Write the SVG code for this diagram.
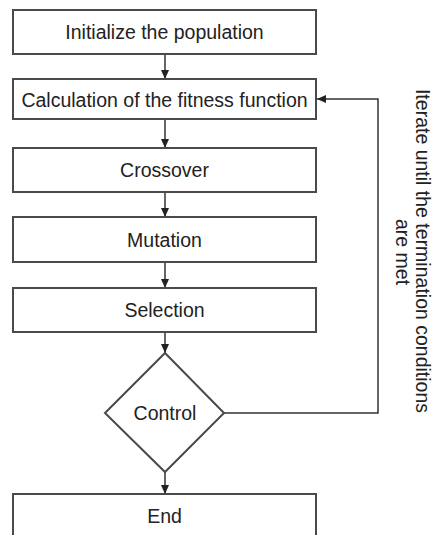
<svg xmlns="http://www.w3.org/2000/svg" width="433" height="535" viewBox="0 0 433 535">
<style>
.box{fill:#fff;stroke:#4a4a4a;stroke-width:2}
.lbl{font-family:"Liberation Sans",Arial,sans-serif;font-size:19.5px;fill:#222;text-anchor:middle}
.conn{fill:none;stroke:#333;stroke-width:1.5}
</style>
<defs>
<marker id="ah" markerUnits="userSpaceOnUse" markerWidth="10" markerHeight="10" refX="9" refY="5" orient="auto">
<path d="M0,1 L9,5 L0,9 Z" fill="#222"/>
</marker>
</defs>
<rect width="433" height="535" fill="#fff"/>
<g id="connectors">
<line class="conn" x1="165" y1="54" x2="165" y2="79" marker-end="url(#ah)"/>
<line class="conn" x1="165" y1="119" x2="165" y2="148" marker-end="url(#ah)"/>
<line class="conn" x1="165" y1="192" x2="165" y2="217" marker-end="url(#ah)"/>
<line class="conn" x1="165" y1="262" x2="165" y2="288" marker-end="url(#ah)"/>
<line class="conn" x1="165" y1="332" x2="165" y2="353" marker-end="url(#ah)"/>
<line class="conn" x1="165" y1="472" x2="165" y2="494" marker-end="url(#ah)"/>
<polyline class="conn" points="224,413 378,413 378,99 317,99" marker-end="url(#ah)"/>
</g>
<g id="init">
<rect class="box" x="13" y="10" width="303" height="44"/>
<text class="lbl" x="164.5" y="39">Initialize the population</text>
</g>
<g id="fitness">
<rect class="box" x="13" y="79" width="303" height="40"/>
<text class="lbl" x="164.5" y="107">Calculation of the fitness function</text>
</g>
<g id="crossover">
<rect class="box" x="13" y="148" width="303" height="44"/>
<text class="lbl" x="164.5" y="177">Crossover</text>
</g>
<g id="mutation">
<rect class="box" x="13" y="217" width="303" height="45"/>
<text class="lbl" x="164.5" y="246.5">Mutation</text>
</g>
<g id="selection">
<rect class="box" x="13" y="288" width="303" height="44"/>
<text class="lbl" x="164.5" y="317">Selection</text>
</g>
<g id="control">
<polygon class="box" points="165,353 224,413 165,472 105,413"/>
<text class="lbl" x="165" y="420">Control</text>
</g>
<g id="end">
<rect class="box" x="13" y="494" width="303" height="46"/>
<text class="lbl" x="164.5" y="523">End</text>
</g>
<g id="loop-label">
<text class="lbl" transform="translate(416,251) rotate(90)">Iterate until the termination conditions</text>
<text class="lbl" transform="translate(396,252) rotate(90)">are met</text>
</g>
</svg>
